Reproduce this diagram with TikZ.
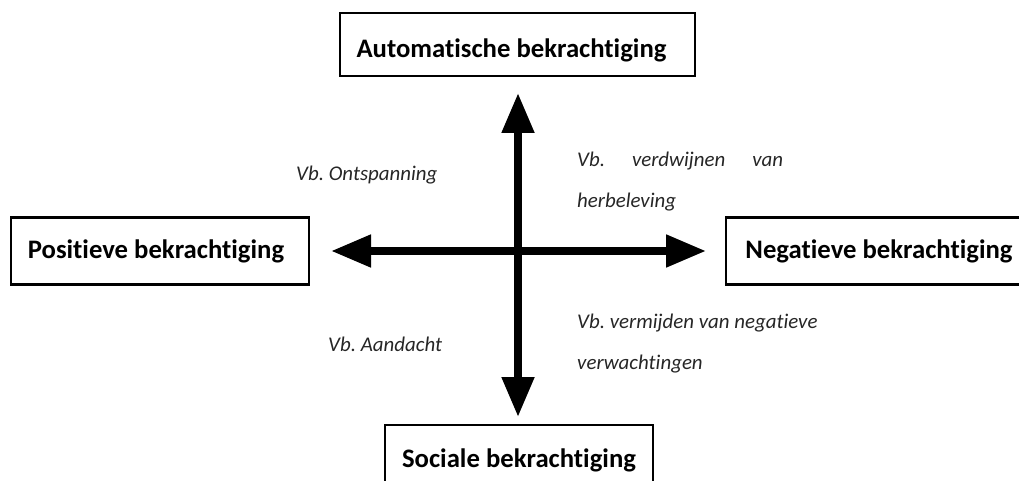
\documentclass[tikz,border=0pt]{standalone}
\usepackage{fontspec}
\setmainfont{Carlito}[Ligatures=NoCommon]
\usetikzlibrary{arrows.meta}
\frenchspacing
\tikzset{
    box/.style={draw, line width=2.2pt, minimum height=63pt, inner sep=0pt, text depth=6pt, font=\fontsize{26.7}{30}\selectfont\bfseries},
    hint/.style={anchor=west, align=left, inner sep=0pt, font=\fontsize{20.9}{41}\selectfont\itshape, text=black!85},
    dbl/.style={line width=8pt, {Triangle[length=40pt, width=31pt]}-{Triangle[length=40pt, width=31pt]}}
}
\begin{document}
\begin{tikzpicture}[x=1pt, y=-1pt]
        \useasboundingbox (0,0) rectangle (1019,481);
        \node[box, minimum width=355pt, text height=32pt] (auto) at (517.5,44.5) {\hspace*{-12pt}Automatische bekrachtiging};
        \node[box, minimum width=298pt, minimum height=67pt, text height=20pt] (pos) at (160,251) {\hspace*{-8pt}Positieve bekrachtiging};
        \node[box, minimum width=306pt, minimum height=67pt, text height=20pt] (neg) at (879,251) {Negatieve bekrachtiging};
        \node[box, minimum width=268pt, text height=27pt] (soc) at (519,456.5) {Sociale bekrachtiging};

        \coordinate (up) at (518,93);
        \coordinate (down) at (518,417);
        \coordinate (left) at (331,251);
        \coordinate (right) at (706,251);
        \draw[dbl] (up) -- (down);
        \draw[dbl] (left) -- (right);

        \node[hint] (ont) at (296,175) {Vb. Ontspanning};
        \node[hint, anchor=north west] (verd) at (577,152) {\makebox[206pt][s]{Vb. verdwijnen van}\\herbeleving};
        \node[hint] (aand) at (328,344) {Vb. Aandacht};
        \node[hint, anchor=north west] (verm) at (577,314) {Vb. vermijden van negatieve\\verwachtingen};
    \end{tikzpicture}
\end{document}
